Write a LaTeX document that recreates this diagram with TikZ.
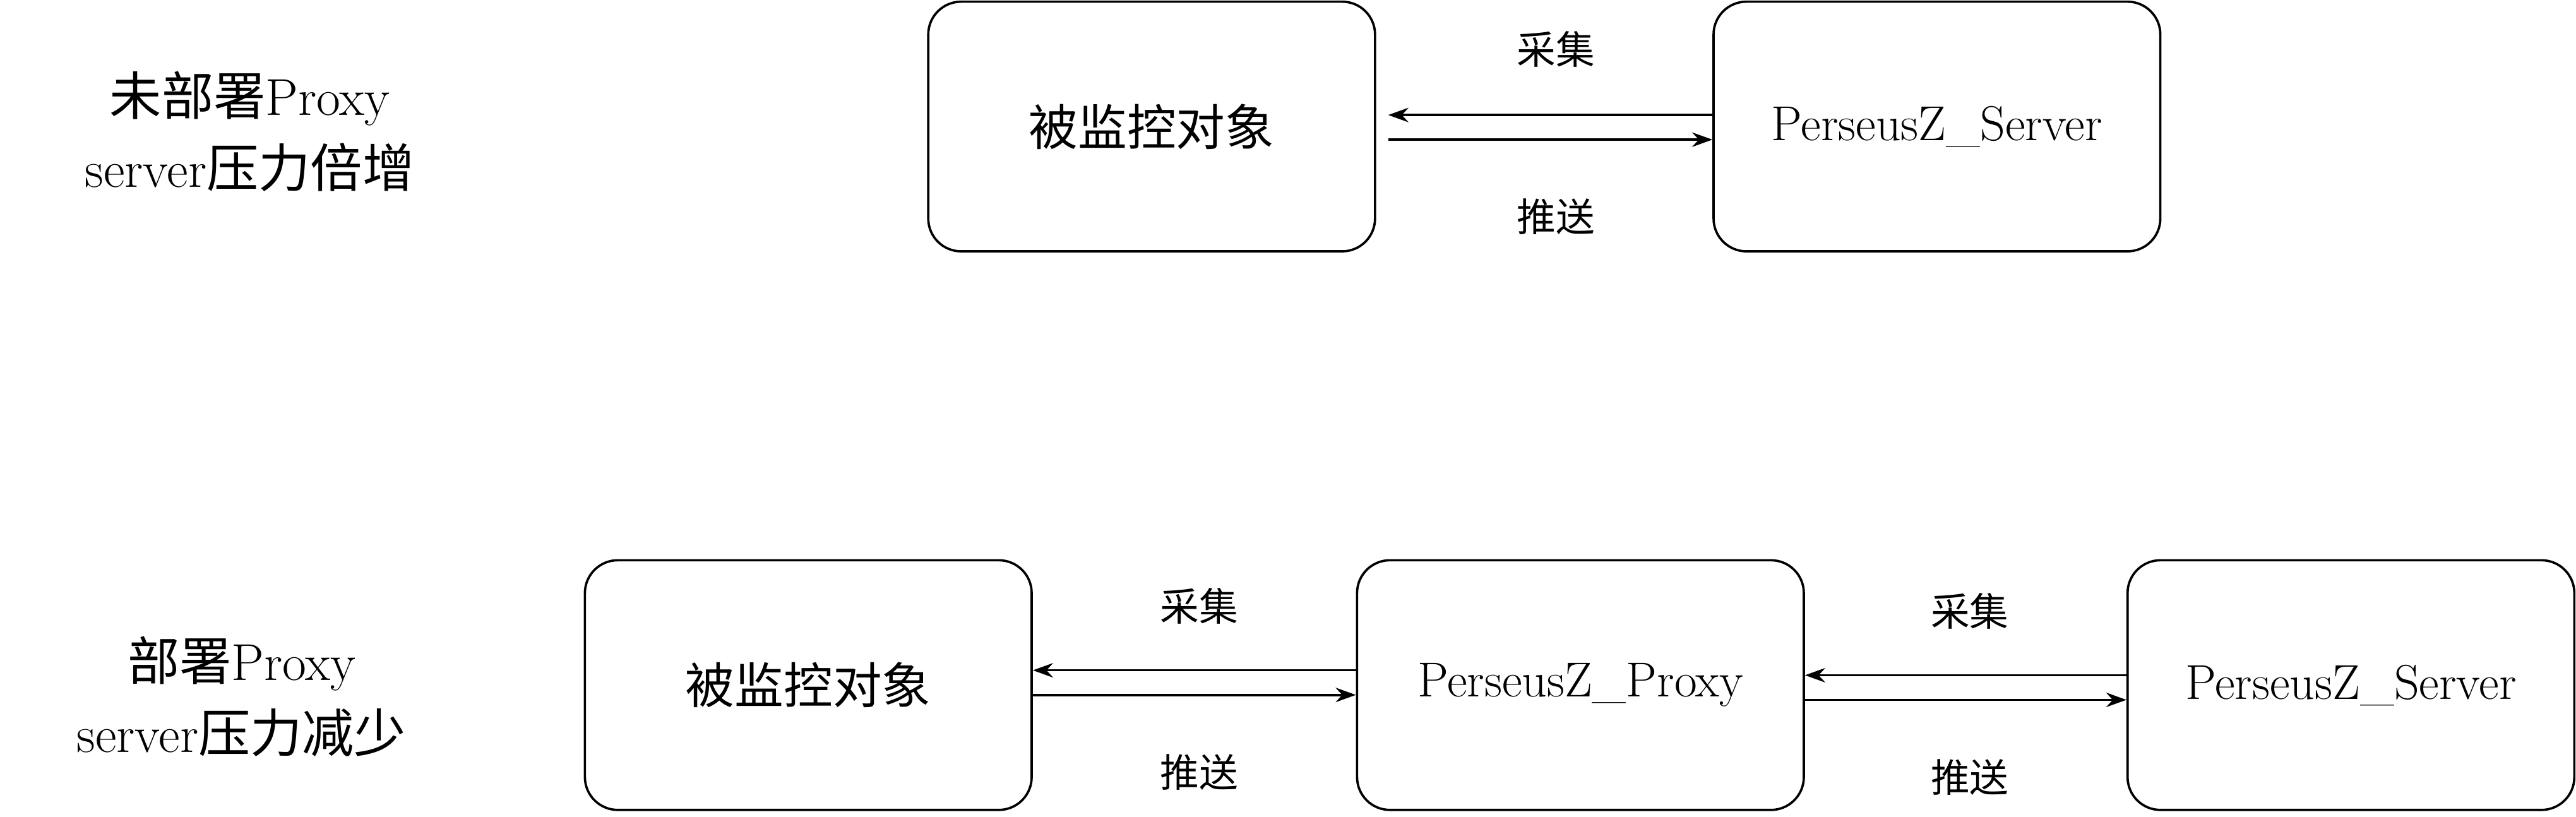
\documentclass[tikz,border=0pt]{standalone}
\usepackage{fontspec}
\newfontfamily\cjk{Noto Sans CJK SC}
\usetikzlibrary{arrows.meta}
\begin{document}
\begin{tikzpicture}[x=0.02cm,y=-0.02cm,
 box/.style={draw,rounded corners=0.4cm,line width=0.8pt,minimum width=5.44cm,minimum height=3.04cm,inner sep=0pt,font=\fontsize{17}{20}\selectfont},
 lbl/.style={font=\cjk\fontsize{13.5}{16}\selectfont},
 side/.style={align=center,font=\fontsize{18}{25}\selectfont},
 arr/.style={-{Stealth[length=7pt,width=5pt]},line width=0.8pt}]
\useasboundingbox (0,0) rectangle (1568,497);
\node[box] (a1) at (701,77) {\cjk 被监控对象};
\node[box] (s1) at (1179,77) {PerseusZ\_Server};
\node[box] (a2) at (492,417) {\cjk 被监控对象};
\node[box] (p2) at (962,417) {PerseusZ\_Proxy};
\node[box] (s2) at (1431,417) {PerseusZ\_Server};
\coordinate (t1) at (845,70); \coordinate (t2) at (845,85);
\draw[arr] (s1.west |- t1) -- (t1);
\draw[arr] (t2) -- (s1.west |- t2);
\node[lbl] (c1) at (947,30) {采集};
\node[lbl] (d1) at (947,132) {推送};
\draw[arr] ([yshift=0.18cm]p2.west) -- ([yshift=0.18cm]a2.east);
\draw[arr] ([yshift=-0.12cm]a2.east) -- ([yshift=-0.12cm]p2.west);
\node[lbl] (c2) at (730,369) {采集};
\node[lbl] (d2) at (730,470) {推送};
\draw[arr] ([yshift=0.12cm]s2.west) -- ([yshift=0.12cm]p2.east);
\draw[arr] ([yshift=-0.18cm]p2.east) -- ([yshift=-0.18cm]s2.west);
\node[lbl] (c3) at (1199,372) {采集};
\node[lbl] (d3) at (1199,473) {推送};
\node[side] (l1) at (152,80) {{\cjk 未部署}Proxy\\server{\cjk 压力倍增}};
\node[side] (l2) at (147,424) {{\cjk 部署}Proxy\\server{\cjk 压力减少}};
\end{tikzpicture}
\end{document}
